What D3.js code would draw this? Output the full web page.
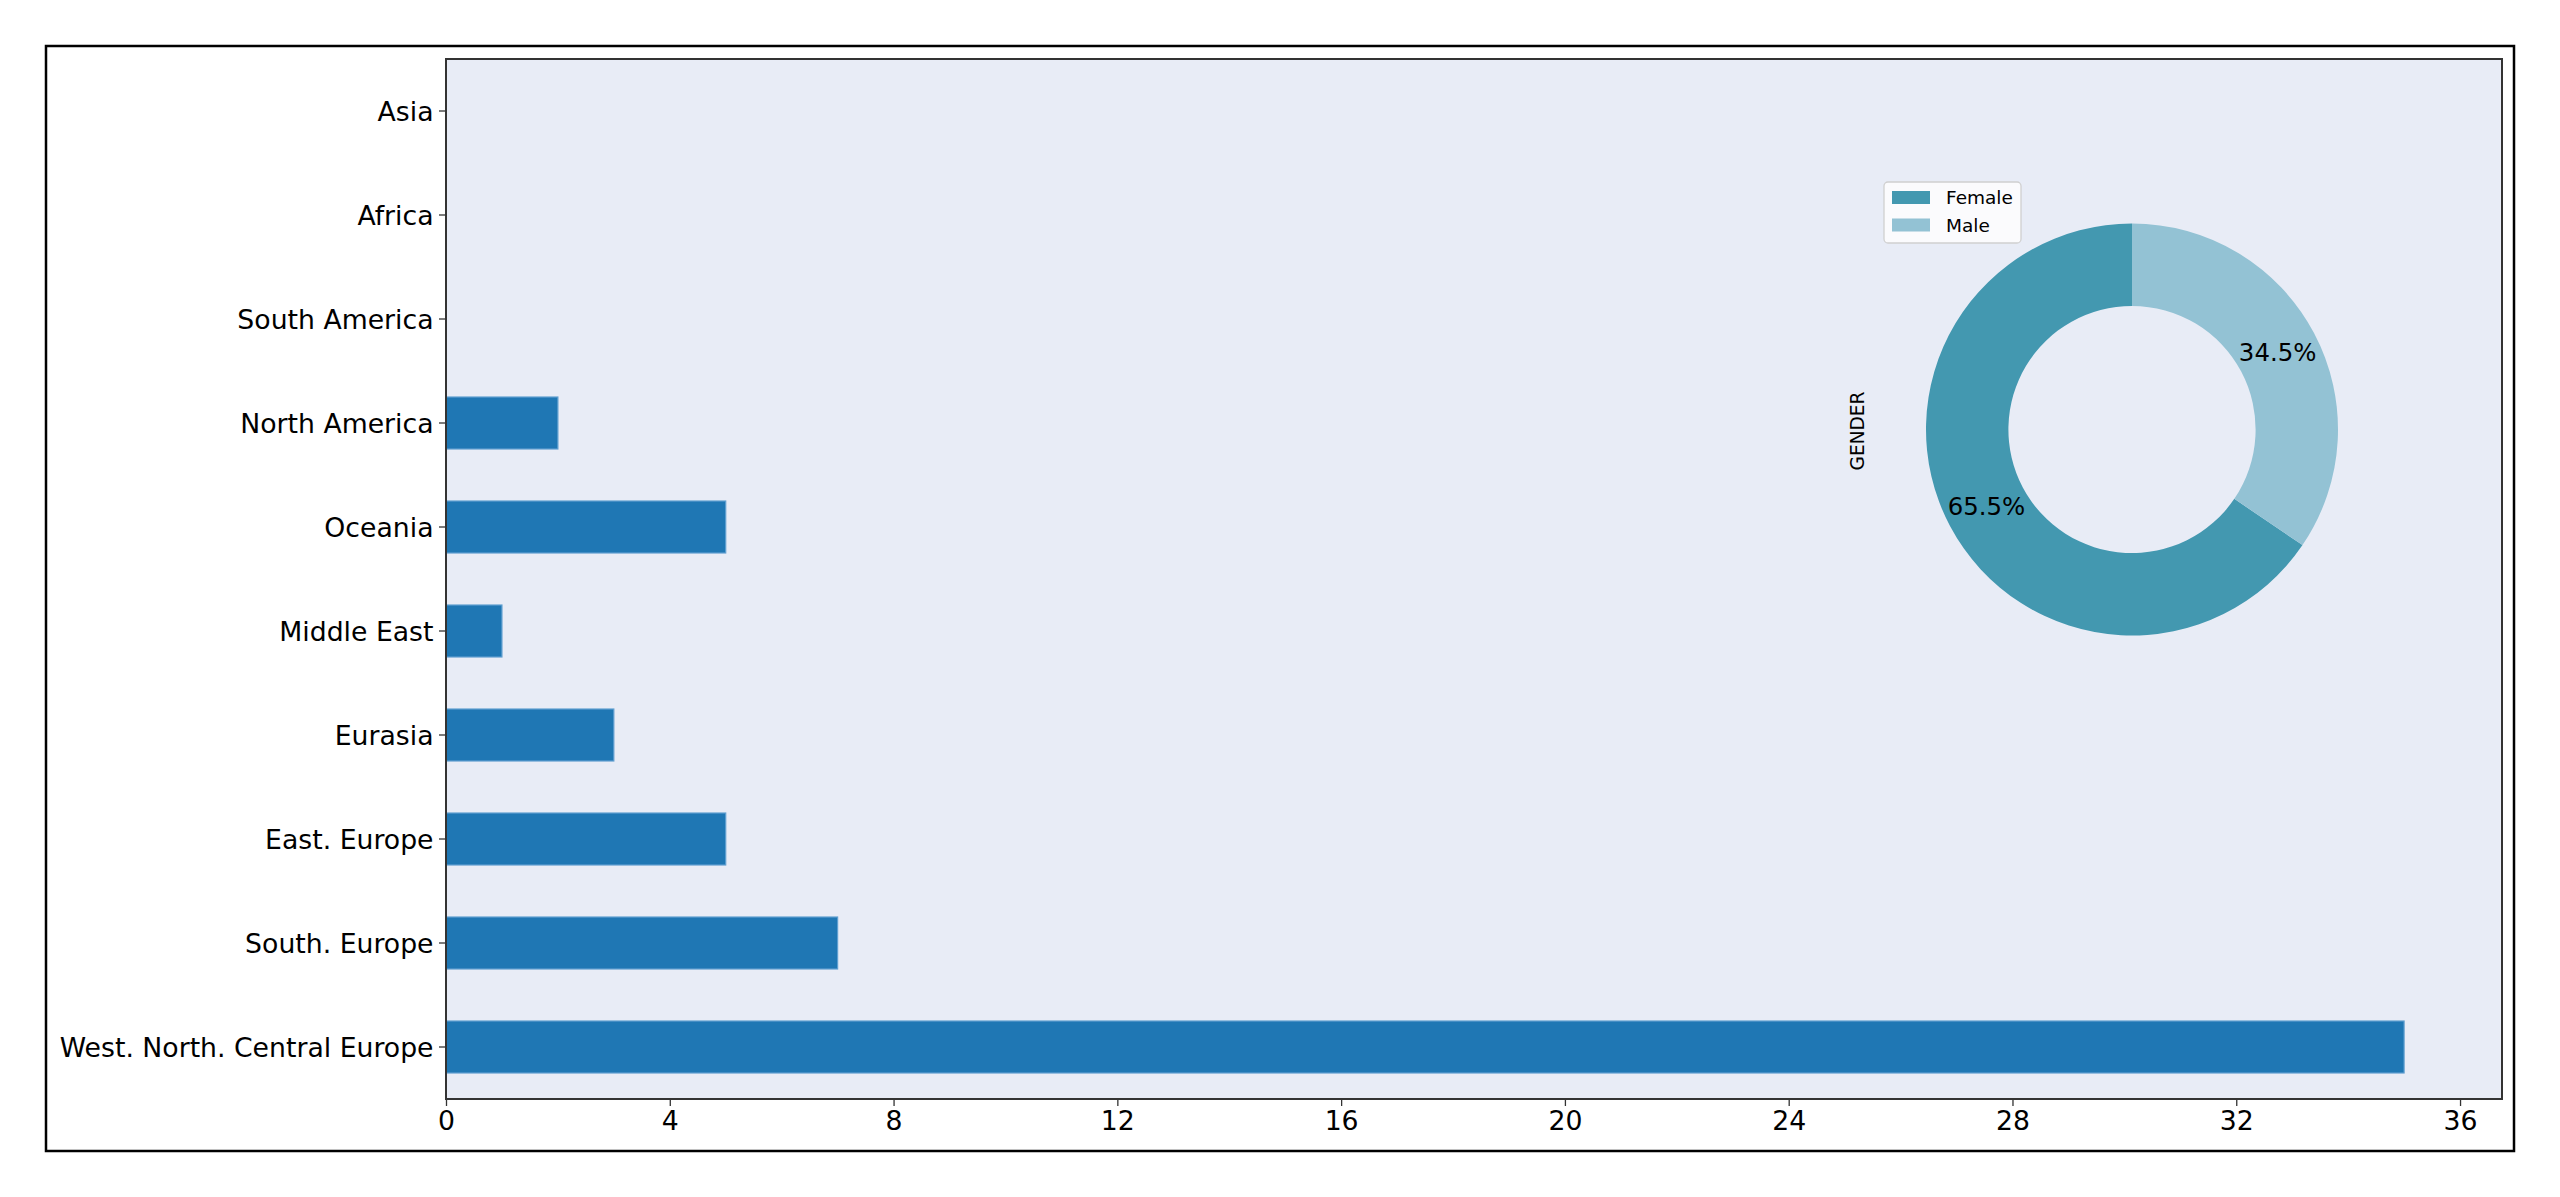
<!DOCTYPE html>
<html>
<head>
<meta charset="utf-8">
<script src="https://cdn.jsdelivr.net/npm/d3@7"></script>
<style>
  html, body { margin: 0; padding: 0; background: #fff; }
  svg text { font-family: "DejaVu Sans", sans-serif; fill: #000; }
</style>
</head>
<body>
<svg id="chart" width="2560" height="1197"></svg>
<script>
// ---- data ----
var regions = ["West. North. Central Europe", "South. Europe", "East. Europe", "Eurasia",
               "Middle East", "Oceania", "North America", "South America", "Africa", "Asia"];
var regionCounts = [35, 7, 5, 3, 1, 5, 2, 0, 0, 0];
var xTicks = [0, 4, 8, 12, 16, 20, 24, 28, 32, 36];

var genders = ["Female", "Male"];
var genderCounts = [38, 20];
var genderColors = ["#4398b0", "#93c2d4"];

// ---- layout ----
var svg = d3.select("#chart");
var plot = {left: 446, right: 2502, top: 59, bottom: 1099};

// figure frame
svg.append("rect")
    .attr("x", 46).attr("y", 46)
    .attr("width", 2514 - 46).attr("height", 1151 - 46)
    .attr("fill", "#fff").attr("stroke", "#000").attr("stroke-width", 2.5);

// axes background
svg.append("rect")
    .attr("x", plot.left).attr("y", plot.top)
    .attr("width", plot.right - plot.left).attr("height", plot.bottom - plot.top)
    .attr("fill", "#e8ecf6");

var x = d3.scaleLinear().domain([0, 35 * 1.05]).range([plot.left, plot.right]);
var y = d3.scaleBand().domain(regions).range([plot.bottom, plot.top])
    .paddingInner(0.5).paddingOuter(0.25);

// bars
svg.append("g").selectAll("rect")
    .data(regions)
    .join("rect")
    .attr("x", x(0))
    .attr("y", function(d) { return y(d); })
    .attr("width", function(d, i) { return x(regionCounts[i]) - x(0); })
    .attr("height", y.bandwidth())
    .attr("fill", "#1f77b4")
    .attr("stroke", function(d, i) { return regionCounts[i] > 0 ? "#5f9fd0" : "none"; })
    .attr("stroke-width", 1.2);

// x axis
var xAxis = svg.append("g")
    .attr("transform", "translate(0," + plot.bottom + ")")
    .call(d3.axisBottom(x).tickValues(xTicks).tickSize(7).tickSizeOuter(0).tickPadding(5));
xAxis.select(".domain").remove();
xAxis.selectAll(".tick line").attr("stroke", "#333").attr("stroke-width", 1.3);
xAxis.selectAll(".tick text").attr("font-size", 26.7).attr("fill", "#000");

// y axis
var yAxis = svg.append("g")
    .attr("transform", "translate(" + plot.left + ",0)")
    .call(d3.axisLeft(y).tickSize(7).tickSizeOuter(0).tickPadding(5.5));
yAxis.select(".domain").remove();
yAxis.selectAll(".tick line").attr("stroke", "#333").attr("stroke-width", 1.3);
yAxis.selectAll(".tick text").attr("font-size", 26.7).attr("dy", "0.38em").attr("fill", "#000");

// axes spines
svg.append("rect")
    .attr("x", plot.left).attr("y", plot.top)
    .attr("width", plot.right - plot.left).attr("height", plot.bottom - plot.top)
    .attr("fill", "none").attr("stroke", "#333").attr("stroke-width", 2);

// ---- donut ----
var cx = 2132, cy = 429.5, R = 206;
var total = d3.sum(genderCounts);
var pie = d3.pie().sort(null).startAngle(0).endAngle(-2 * Math.PI);
var arcs = pie(genderCounts);
var arc = d3.arc().innerRadius(R * 0.6).outerRadius(R);
var labelArc = d3.arc().innerRadius(R * 0.8).outerRadius(R * 0.8);

var donut = svg.append("g").attr("transform", "translate(" + cx + "," + cy + ")");
donut.selectAll("path")
    .data(arcs)
    .join("path")
    .attr("d", arc)
    .attr("fill", function(d, i) { return genderColors[i]; });

donut.selectAll("text")
    .data(arcs)
    .join("text")
    .attr("transform", function(d) { return "translate(" + labelArc.centroid(d) + ")"; })
    .attr("text-anchor", "middle")
    .attr("dominant-baseline", "central")
    .attr("font-size", 24.4)
    .text(function(d) { return (100 * d.value / total).toFixed(1) + "%"; });

// GENDER label
svg.append("text")
    .attr("transform", "translate(1857,431) rotate(-90)")
    .attr("text-anchor", "middle")
    .attr("dominant-baseline", "central")
    .attr("font-size", 18.6)
    .text("GENDER");

// legend
var legend = svg.append("g").attr("transform", "translate(1884,182)");
legend.append("rect")
    .attr("width", 137).attr("height", 61).attr("rx", 4)
    .attr("fill", "#fff").attr("fill-opacity", 0.8)
    .attr("stroke", "#d0d0d0").attr("stroke-width", 1.3);
var items = legend.selectAll("g.item")
    .data(genders)
    .join("g")
    .attr("class", "item")
    .attr("transform", function(d, i) { return "translate(0," + (i * 27.5) + ")"; });
items.append("rect")
    .attr("x", 8).attr("y", 9)
    .attr("width", 38).attr("height", 13)
    .attr("fill", function(d, i) { return genderColors[i]; });
items.append("text")
    .attr("x", 62).attr("y", 22)
    .attr("font-size", 18.5)
    .text(function(d) { return d; });
</script>
</body>
</html>
